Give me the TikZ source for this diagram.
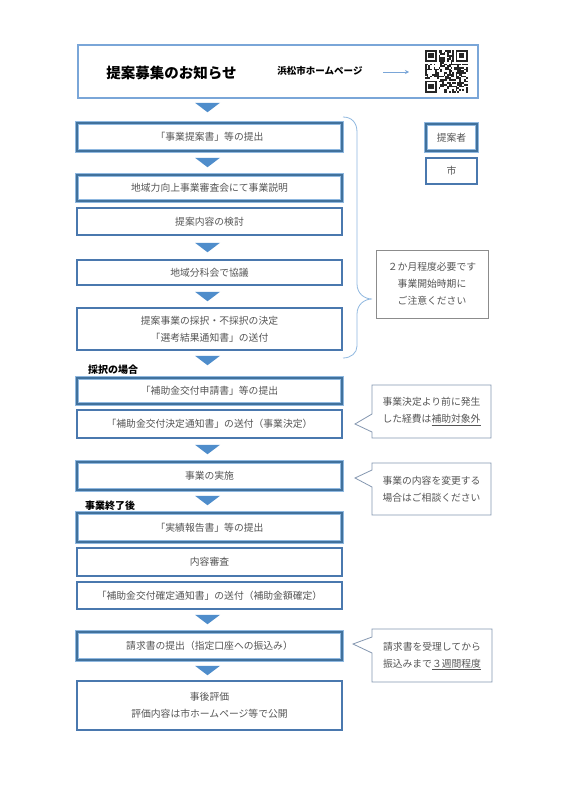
\documentclass[tikz,border=0pt]{standalone}
\usepackage{fontspec}
\setmainfont{Noto Sans CJK JP}
\usetikzlibrary{calc,arrows.meta}
\definecolor{db}{HTML}{41719C}
\definecolor{sb}{HTML}{4A78AE}
\definecolor{lb}{HTML}{8FB8E0}
\definecolor{hb}{HTML}{7AA6D8}
\definecolor{trif}{HTML}{4F8DCB}
\definecolor{txt}{HTML}{555555}
\definecolor{callb}{HTML}{8497B0}
\definecolor{noteb}{HTML}{8C8C8C}
\tikzset{
  boxtext/.style={font=\fontsize{9.8}{17}\selectfont, text=txt, align=center, inner sep=0pt},
  dbox/.style={boxtext, preaction={draw=lb, line width=3.4pt}, draw=db, line width=1.1pt},
  sbox/.style={boxtext, draw=sb, line width=1.1pt},
  hdrbox/.style={draw=hb, line width=1.6pt, inner sep=0pt},
  notebox/.style={boxtext, draw=noteb, line width=0.7pt},
  calloutline/.style={draw=callb, line width=0.8pt, line join=miter},
  bracestyle/.style={draw=lb, line width=0.8pt},
  steplabel/.style={font=\bfseries\fontsize{10}{12}\selectfont, text=black, inner sep=0pt, anchor=west},
  downtri/.pic={\fill[trif] (-12.5,-4.7) -- (12.5,-4.7) -- (0,4.7) -- cycle;}
}
\begin{document}
\begin{tikzpicture}[x=1pt,y=-1pt]
\useasboundingbox (0,0) rectangle (566,800);
\fill[white] (0,0) rectangle (566,800);

% header
\node[hdrbox, minimum width=400pt, minimum height=53pt] (hdr) at (278,71.5) {};
\node[font=\bfseries\fontsize{14.5}{16}\selectfont, inner sep=0pt] (title) at (171.5,73) {提案募集のお知らせ};
\node[font=\bfseries\fontsize{9.5}{12}\selectfont, inner sep=0pt] (hp) at (320,70.5) {浜松市ホームページ};
\coordinate (arrA) at (383,72);
\coordinate (arrB) at (409,72);
\draw[hb, line width=1pt, -{Stealth[length=4pt,width=4pt]}] (arrA) -- (arrB);
% QR code
\begin{scope}[shift={(425,50)}]
  \pgfmathsetseed{4242}
  \foreach \i in {0,...,24}{
    \foreach \j in {0,...,24}{
      \pgfmathsetmacro{\qrr}{rnd}
      \pgfmathtruncatemacro{\qrsk}{((\i<8)&&(\j<8)) || ((\i>16)&&(\j<8)) || ((\i<8)&&(\j>16))}
      \ifnum\qrsk=0
        \ifdim\qrr pt<0.55pt
          \fill[black!85] ({\i*1.7},{\j*1.7}) rectangle ++(1.75,1.75);
        \fi
      \fi
    }
  }
  \foreach \a/\b in {0/0,18/0,0/18}{
    \fill[black!85] ({\a*1.7},{\b*1.7}) rectangle ++(11.9,11.9);
    \fill[white] ({(\a+1)*1.7},{(\b+1)*1.7}) rectangle ++(8.5,8.5);
    \fill[black!85] ({(\a+2)*1.7},{(\b+2)*1.7}) rectangle ++(5.1,5.1);
  }
\end{scope}

% flow boxes
\node[dbox, minimum width=265pt, minimum height=28pt] (b1) at (209.5,137) {「事業提案書」等の提出};
\node[dbox, minimum width=265pt, minimum height=26pt] (b2) at (209.5,188) {地域力向上事業審査会にて事業説明};
\node[sbox, minimum width=265pt, minimum height=27pt] (b3) at (209.5,221.5) {提案内容の検討};
\node[sbox, minimum width=265pt, minimum height=25pt] (b4) at (209.5,272.5) {地域分科会で協議};
\node[sbox, minimum width=265pt, minimum height=42pt] (b5) at (209.5,329) {提案事業の採択・不採択の決定\\「選考結果通知書」の送付};
\node[dbox, minimum width=265pt, minimum height=26pt] (b6) at (209.5,391) {「補助金交付申請書」等の提出};
\node[sbox, minimum width=265pt, minimum height=28pt] (b7) at (209.5,424) {「補助金交付決定通知書」の送付（事業決定）};
\node[dbox, minimum width=265pt, minimum height=28pt] (b8) at (209.5,476) {事業の実施};
\node[dbox, minimum width=265pt, minimum height=29pt] (b9) at (209.5,527.5) {「実績報告書」等の提出};
\node[sbox, minimum width=265pt, minimum height=28pt] (b10) at (209.5,562) {内容審査};
\node[sbox, minimum width=265pt, minimum height=27pt] (b11) at (209.5,595.5) {「補助金交付確定通知書」の送付（補助金額確定）};
\node[dbox, minimum width=265pt, minimum height=28pt] (b12) at (209.5,646) {請求書の提出（指定口座への振込み）};
\node[sbox, minimum width=265pt, minimum height=49pt] (b13) at (209.5,705.5) {事後評価\\評価内容は市ホームページ等で公開};

% down triangles
\pic at (207.5,107.5) {downtri};
\pic at (207.5,162.5) {downtri};
\pic at (207.5,247.5) {downtri};
\pic at (207.5,296.5) {downtri};
\pic at (207.5,360.5) {downtri};
\pic at (207.5,449.5) {downtri};
\pic at (207.5,500.5) {downtri};
\pic at (207.5,619.5) {downtri};
\pic at (207.5,670.5) {downtri};

% section labels
\node[steplabel] (lab1) at (88,369.5) {採択の場合};
\node[steplabel] (lab2) at (85,506) {事業終了後};

% legend
\node[dbox, minimum width=51pt, minimum height=27pt] (leg1) at (451.5,137.5) {提案者};
\node[sbox, minimum width=51pt, minimum height=26pt] (leg2) at (451.5,171) {市};

% brace
\draw[bracestyle] (343,117) .. controls (352,117) and (357,123) .. (357,132)
  -- (357,284) .. controls (357,294) and (365,299) .. (372,299)
  .. controls (365,299) and (357,304) .. (357,314)
  -- (357,346) .. controls (357,353) and (351,358) .. (343,358);

% note box
\node[notebox, minimum width=112pt, minimum height=68pt] (note1) at (432,284) {２か月程度必要です\\事業開始時期に\\ご注意ください};

% callouts
\draw[calloutline] (372,385) -- (491,385) -- (491,438) -- (372,438) -- (372,432) -- (355,424) -- (372,414) -- cycle;
\node[boxtext] (c2) at (431.5,411.5) {事業決定より前に発生\\した経費は\underline{補助対象外}};
\draw[calloutline] (372,463) -- (491,463) -- (491,515) -- (372,515) -- (372,487) -- (355,478) -- (372,470) -- cycle;
\node[boxtext] (c3) at (431.5,489.5) {事業の内容を変更する\\場合はご相談ください};
\draw[calloutline] (372,629) -- (492,629) -- (492,682) -- (372,682) -- (372,653) -- (353,644) -- (372,637) -- cycle;
\node[boxtext] (c4) at (432,656) {請求書を受理してから\\振込みまで\underline{３週間程度}};
\end{tikzpicture}
\end{document}
